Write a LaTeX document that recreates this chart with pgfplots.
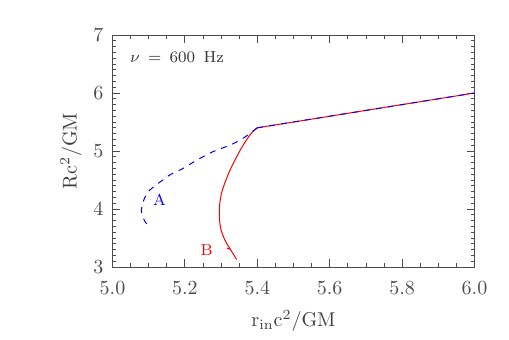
\documentclass[border=0pt]{standalone}
\usepackage{pgfplots}
\pgfplotsset{compat=1.18}
\begin{document}
\begin{tikzpicture}
\begin{axis}[
    name=ax,
    scale only axis,
    width=181pt, height=116pt,
    xmin=5.0, xmax=6.0, ymin=3, ymax=7,
    xtick={5.0,5.2,5.4,5.6,5.8,6.0},
    minor x tick num=3,
    ytick={3,4,5,6,7},
    minor y tick num=9,
    tick align=inside,
    major tick length=4pt, minor tick length=2pt,
    tick label style={font=\normalsize, text=black!70},
    xticklabel style={yshift=-4pt, /pgf/number format/.cd, fixed, fixed zerofill, precision=1},
    yticklabel style={xshift=-1pt},
    xlabel={r$_{\rm in}$c$^2$/GM},
    ylabel={Rc$^2$/GM},
    label style={font=\normalsize, text=black!75},
    xlabel style={yshift=-1pt},
    ylabel style={yshift=-1pt},
    axis line style={black!70},
    every tick/.style={black!70},
    clip=false,
]
% shared straight part
\addplot[red, line width=0.5pt] coordinates {(5.4,5.4) (6.0,6.0)};
\addplot[blue, line width=0.5pt, dash pattern=on 3pt off 3pt] coordinates {(5.4,5.4) (6.0,6.0)};
% curve B (red, solid)
\addplot[red, line width=0.5pt, smooth, tension=0.5] coordinates {
    (5.4,5.4) (5.384,5.31) (5.37,5.19) (5.356,5.05) (5.338,4.84)
    (5.319,4.59) (5.301,4.27) (5.295,3.98) (5.298,3.69) (5.31,3.47)
    (5.324,3.32) (5.343,3.13)
};
% small tick on curve B
\addplot[red, line width=0.5pt] coordinates {(5.326,3.305) (5.316,3.325)};
% curve A (blue, dashed)
\addplot[blue, line width=0.5pt, dash pattern=on 3pt off 3pt, smooth, tension=0.5] coordinates {
    (5.4,5.4) (5.361,5.22) (5.324,5.10) (5.278,4.99) (5.232,4.84)
    (5.195,4.70) (5.159,4.59) (5.126,4.44) (5.099,4.30) (5.085,4.13)
    (5.080,3.95) (5.090,3.78) (5.10,3.71)
};
\node[blue, font=\footnotesize] at (axis cs:5.13,4.16) {A};
\node[red, font=\footnotesize] at (axis cs:5.26,3.29) {B};
\node[anchor=west, font=\footnotesize, text=black!80] at (axis cs:5.03,6.62) {$\nu$\ \,=\ \,600\ \,Hz};
\end{axis}
\path (ax.south west) ++(-56.25pt,-36pt) rectangle ++(254.5pt,169.5pt);
\end{tikzpicture}
\end{document}
